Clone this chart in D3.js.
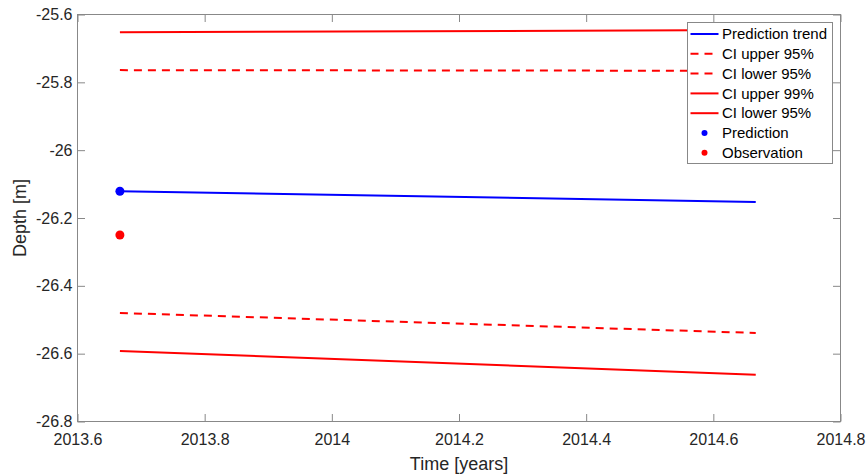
<!DOCTYPE html>
<html>
<head>
<meta charset="utf-8">
<script src="https://cdn.jsdelivr.net/npm/d3@7"></script>
<style>
  body { margin: 0; background: #fff; }
  svg { display: block; font-family: "Liberation Sans", Arial, sans-serif; }
  .axis text { fill: #262626; font-size: 16px; }
</style>
</head>
<body>
<div id="chart"></div>
<script>
// time span of the forecast (years)
const times = [2013.6667, 2014.6667]
const predictionTrend = [-26.121, -26.153]
const ciUpper95 = [-25.764, -25.766]
const ciLower95 = [-26.480, -26.539]
const ciUpper99 = [-25.652, -25.646]
const ciLower99 = [-26.592, -26.662]
const predictionPoint = [2013.6667, -26.121]
const observationPoint = [2013.6667, -26.250]

const xTicks = [2013.6, 2013.8, 2014, 2014.2, 2014.4, 2014.6, 2014.8]
const yTicks = [-26.8, -26.6, -26.4, -26.2, -26, -25.8, -25.6]

const legendItems = [
  { label: 'Prediction trend', color: '#0000ff', dash: null, type: 'line' },
  { label: 'CI upper 95%', color: '#ff0000', dash: '8,6', type: 'line' },
  { label: 'CI lower 95%', color: '#ff0000', dash: '8,6', type: 'line' },
  { label: 'CI upper 99%', color: '#ff0000', dash: null, type: 'line' },
  { label: 'CI lower 95%', color: '#ff0000', dash: null, type: 'line' },
  { label: 'Prediction', color: '#0000ff', type: 'dot' },
  { label: 'Observation', color: '#ff0000', type: 'dot' }
]

const width = 867
const height = 475
const margin = { left: 77.5, right: 26.5, top: 14.5, bottom: 53.5 }

const svg = d3.select('#chart').append('svg')
  .attr('width', width)
  .attr('height', height)

const x = d3.scaleLinear()
  .domain([2013.6, 2014.8])
  .range([margin.left, width - margin.right])

const y = d3.scaleLinear()
  .domain([-26.8, -25.6])
  .range([height - margin.bottom, margin.top])

// plain hyphen minus, like the original
const fmt = d => String(+d.toFixed(1))
const tickLen = 7.5
const axisColor = '#888'

// bottom / top axes
const gx = svg.append('g').attr('class', 'axis')
  .attr('transform', `translate(0,${height - margin.bottom})`)
  .call(d3.axisBottom(x).tickValues(xTicks).tickFormat(fmt).tickSizeInner(-tickLen).tickSizeOuter(0).tickPadding(12))
gx.select('.domain').remove()
gx.selectAll('line').attr('stroke', axisColor)

const gxt = svg.append('g')
  .attr('transform', `translate(0,${margin.top})`)
  .call(d3.axisTop(x).tickValues(xTicks).tickFormat('').tickSizeInner(-tickLen).tickSizeOuter(0))
gxt.select('.domain').remove()
gxt.selectAll('line').attr('stroke', axisColor)

// left / right axes
const gy = svg.append('g').attr('class', 'axis')
  .attr('transform', `translate(${margin.left},0)`)
  .call(d3.axisLeft(y).tickValues(yTicks).tickFormat(fmt).tickSizeInner(-tickLen).tickSizeOuter(0).tickPadding(5))
gy.select('.domain').remove()
gy.selectAll('line').attr('stroke', axisColor)

const gyr = svg.append('g')
  .attr('transform', `translate(${width - margin.right},0)`)
  .call(d3.axisRight(y).tickValues(yTicks).tickFormat('').tickSizeInner(-tickLen).tickSizeOuter(0))
gyr.select('.domain').remove()
gyr.selectAll('line').attr('stroke', axisColor)

// box
svg.append('rect')
  .attr('x', margin.left).attr('y', margin.top)
  .attr('width', width - margin.left - margin.right)
  .attr('height', height - margin.top - margin.bottom)
  .attr('fill', 'none').attr('stroke', axisColor).attr('stroke-width', 1)

// axis titles
svg.append('text')
  .attr('x', x(2014.2)).attr('y', 470)
  .attr('text-anchor', 'middle')
  .attr('fill', '#262626').style('font-size', '18px')
  .text('Time [years]')

svg.append('text')
  .attr('transform', `translate(26,${y(-26.2)}) rotate(-90)`)
  .attr('text-anchor', 'middle')
  .attr('fill', '#262626').style('font-size', '18px')
  .text('Depth [m]')

// series
const line = d3.line()
  .x((d, i) => x(times[i]))
  .y(d => y(d))

const series = [
  { data: ciUpper99, color: '#ff0000', dash: null },
  { data: ciUpper95, color: '#ff0000', dash: '8,6' },
  { data: predictionTrend, color: '#0000ff', dash: null },
  { data: ciLower95, color: '#ff0000', dash: '8,6' },
  { data: ciLower99, color: '#ff0000', dash: null }
]

svg.selectAll('.series')
  .data(series)
  .enter()
  .append('path')
  .attr('class', 'series')
  .attr('d', d => line(d.data))
  .attr('fill', 'none')
  .attr('stroke', d => d.color)
  .attr('stroke-width', 2)
  .attr('stroke-dasharray', d => d.dash)

svg.append('circle')
  .attr('cx', x(predictionPoint[0])).attr('cy', y(predictionPoint[1]))
  .attr('r', 4.5).attr('fill', '#0000ff')

svg.append('circle')
  .attr('cx', x(observationPoint[0])).attr('cy', y(observationPoint[1]))
  .attr('r', 4.5).attr('fill', '#ff0000')

// legend
const lg = svg.append('g').attr('transform', 'translate(687.5,22.5)')
lg.append('rect')
  .attr('width', 145).attr('height', 141)
  .attr('fill', '#fff').attr('stroke', axisColor)

const rows = lg.selectAll('.row')
  .data(legendItems)
  .enter()
  .append('g')
  .attr('class', 'row')
  .attr('transform', (d, i) => `translate(0,${11.5 + i * 19.8})`)

rows.filter(d => d.type === 'line').append('line')
  .attr('x1', 3).attr('x2', 31)
  .attr('stroke', d => d.color)
  .attr('stroke-width', 2)
  .attr('stroke-dasharray', d => d.dash)

rows.filter(d => d.type === 'dot').append('circle')
  .attr('cx', 17).attr('r', 3)
  .attr('fill', d => d.color)

rows.append('text')
  .attr('x', 34.5).attr('dy', '0.35em')
  .attr('fill', '#000').style('font-size', '15px')
  .text(d => d.label)
</script>
</body>
</html>
